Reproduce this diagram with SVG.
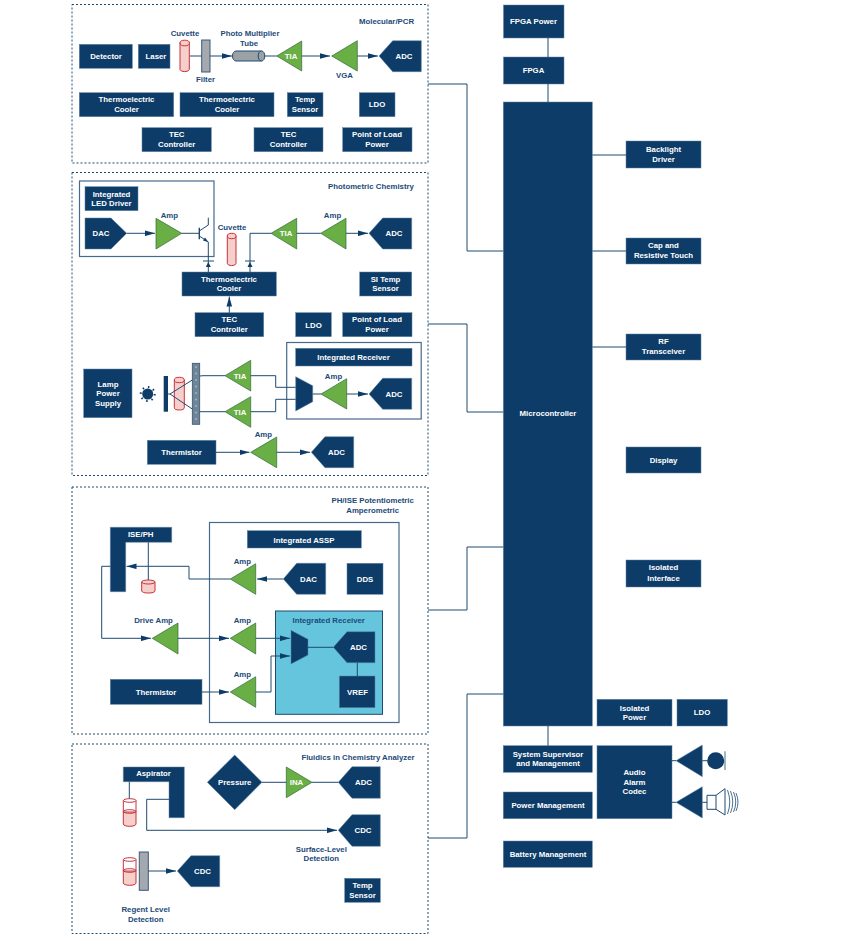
<svg xmlns="http://www.w3.org/2000/svg" width="848" height="938" viewBox="0 0 848 938">
<defs>
<marker id="arr" markerUnits="userSpaceOnUse" markerWidth="10" markerHeight="6" refX="10" refY="3" orient="auto"><path d="M0 0.2L10 3L0 5.8z" fill="#0d3c68"/></marker>
</defs>
<style>
text{font-family:"Liberation Sans",Arial,sans-serif;font-size:7.8px;font-weight:700;text-anchor:middle}
.n{fill:#0d3c68;stroke:#5f84a3;stroke-width:.5}
.w{fill:#fff}
.t{fill:#1c4a77}
.g{fill:#6aae46;stroke:#2f6b36;stroke-width:.7}
.panel{fill:#fff;stroke:#1f4a70;stroke-width:1;stroke-dasharray:2 2}
.box{fill:#fff;stroke:#47698a;stroke-width:1.2}
.c{fill:none;stroke:#1f4a70;stroke-width:1}
.a{marker-end:url(#arr)}
.cy{fill:#f7cfca;stroke:#c5323c;stroke-width:1}
.ct{fill:#fff;stroke:#c5323c;stroke-width:1}
.o{fill:none;stroke:#c5323c;stroke-width:1}
.gy{fill:#a3a9ae;stroke:#3b5b77;stroke-width:1}
</style>
<rect width="848" height="938" fill="#fff"/>
<g id="panels">
<rect class="panel" x="72" y="4.500" width="356" height="158.500"/>
<rect class="panel" x="72" y="172.500" width="356" height="303"/>
<rect class="panel" x="72" y="487" width="356" height="247"/>
<rect class="panel" x="72" y="744" width="356" height="189.500"/>
<rect class="box" x="79.500" y="181" width="134.500" height="75.500"/>
<rect class="box" x="286.700" y="342.500" width="134.500" height="76.500"/>
<rect class="box" x="209.500" y="522.500" width="189.500" height="200"/>
<rect x="275.500" y="611" width="107" height="103.300" fill="#64c5dd" stroke="#1f4a70" stroke-width="1"/>
</g>
<g id="panel-titles">
<text class="t" x="386.500" y="24">Molecular/PCR</text>
<text class="t" x="371" y="189">Photometric Chemistry</text>
<text class="t" x="372.700" y="503">PH/ISE Potentiometric</text>
<text class="t" x="372.700" y="513">Amperometric</text>
<text class="t" x="358" y="760">Fluidics in Chemistry Analyzer</text>
</g>
<g id="molecular">
<g id="m-detector"><rect class="n" x="79.300" y="44.300" width="53" height="24"/><text class="w" x="106" y="59">Detector</text></g>
<g id="m-laser"><rect class="n" x="138.300" y="44.300" width="31.700" height="24"/><text class="w" x="156" y="59">Laser</text></g>
<g id="m-cuvette"><path class="cy" d="M180 42.500V69.500A4.700 2.500 0 0 0 189.300 69.500V42.500z"/><ellipse class="cy" cx="184.700" cy="43" rx="4.700" ry="2.800"/><text class="t" x="185" y="36">Cuvette</text></g>
<g id="m-filter"><rect class="gy" x="201.700" y="40" width="8.300" height="32"/><text class="t" x="205.500" y="82">Filter</text></g>
<g id="m-pmt"><path d="M236 51H261.500V61H236A3.500 5 0 0 1 236 51z" fill="#9aa1a7" stroke="#1f4a70"/><ellipse cx="261.500" cy="56" rx="3.300" ry="5" fill="#9aa1a7" stroke="#1f4a70"/><text class="t" x="250" y="36">Photo Multiplier</text><text class="t" x="249" y="46">Tube</text></g>
<g id="m-tia"><path class="g" d="M276.700 56L301.700 41V71z"/><text class="w" x="291" y="59">TIA</text></g>
<g id="m-vga"><path class="g" d="M331.700 56L357.300 40.700V71z"/><text class="t" x="344.500" y="77.500">VGA</text></g>
<g id="m-adc"><path class="n" d="M379 56L392.700 40.700H421.300V71.700H392.700z"/><text class="w" x="404" y="59">ADC</text></g>
<g id="m-tec1"><rect class="n" x="79.300" y="92.700" width="94.400" height="24"/><text class="w" x="126.500" y="102">Thermoelectric</text><text class="w" x="126.500" y="112">Cooler</text></g>
<g id="m-tec2"><rect class="n" x="180" y="92.700" width="94" height="24"/><text class="w" x="227" y="102">Thermoelectric</text><text class="w" x="227" y="112">Cooler</text></g>
<g id="m-temp"><rect class="n" x="287.300" y="92.700" width="35.700" height="24"/><text class="w" x="305" y="102">Temp</text><text class="w" x="305" y="112">Sensor</text></g>
<g id="m-ldo"><rect class="n" x="359.300" y="92.700" width="35.700" height="24"/><text class="w" x="377" y="107">LDO</text></g>
<g id="m-teccon1"><rect class="n" x="142" y="127.700" width="69.300" height="24"/><text class="w" x="176.700" y="137">TEC</text><text class="w" x="176.700" y="147">Controller</text></g>
<g id="m-teccon2"><rect class="n" x="254" y="127.700" width="69" height="24"/><text class="w" x="288.500" y="137">TEC</text><text class="w" x="288.500" y="147">Controller</text></g>
<g id="m-pol"><rect class="n" x="342.700" y="127.700" width="69.300" height="24"/><text class="w" x="377" y="137">Point of Load</text><text class="w" x="377" y="147">Power</text></g>
</g>
<g id="photometric">
<g id="p-led"><rect class="n" x="85" y="186.700" width="53" height="24"/><text class="w" x="111.500" y="197">Integrated</text><text class="w" x="111.500" y="206">LED Driver</text></g>
<g id="p-dac"><path class="n" d="M85 218H111L126.700 233.300L111 249H85z"/><text class="w" x="101" y="236">DAC</text></g>
<g id="p-amp1"><path class="g" d="M156 218.300L181.700 233.300L156 249z"/><text class="t" x="169.300" y="218">Amp</text></g>
<g id="p-transistor"><path d="M199.300 227.700V239.300" fill="none" stroke="#1f4a70" stroke-width="1.400"/><path class="c" d="M199.300 231L208.300 225V217.700M199.300 236L208.300 242"/><path d="M208.300 242L203 240.500L205 237.500z" fill="#0d3c68"/></g>
<g id="p-cuvette"><path class="cy" d="M227.300 236V263.500A4.400 2.500 0 0 0 236 263.500V236z"/><ellipse class="cy" cx="231.700" cy="236" rx="4.400" ry="2.700"/><text class="t" x="232" y="230">Cuvette</text></g>
<g id="p-tec"><rect class="n" x="182" y="272" width="94.300" height="24"/><text class="w" x="229" y="282">Thermoelectric</text><text class="w" x="229" y="291">Cooler</text></g>
<g id="p-teccon"><rect class="n" x="195" y="312.700" width="68.700" height="24"/><text class="w" x="229.300" y="322">TEC</text><text class="w" x="229.300" y="332">Controller</text></g>
<g id="p-ldo"><rect class="n" x="295.700" y="312.700" width="35.600" height="24"/><text class="w" x="313.500" y="327.500">LDO</text></g>
<g id="p-pol"><rect class="n" x="342.700" y="312.700" width="69.300" height="24"/><text class="w" x="377" y="322">Point of Load</text><text class="w" x="377" y="332">Power</text></g>
<g id="p-sitemp"><rect class="n" x="359.700" y="272" width="52" height="24"/><text class="w" x="385.500" y="282">SI Temp</text><text class="w" x="385.500" y="291">Sensor</text></g>
<g id="p-tia"><path class="g" d="M271 233.300L296.700 218.300V249z"/><text class="w" x="286" y="236">TIA</text></g>
<g id="p-amp2"><path class="g" d="M320.700 233.300L346 218.300V249z"/><text class="t" x="332.500" y="218">Amp</text></g>
<g id="p-adc"><path class="n" d="M369 233.300L382.700 218H411.700V249H382.700z"/><text class="w" x="394" y="236">ADC</text></g>
<g id="p-lamp"><rect class="n" x="83.700" y="369" width="48.300" height="48.700"/><text class="w" x="108" y="387">Lamp</text><text class="w" x="108" y="396">Power</text><text class="w" x="108" y="406">Supply</text></g>
<g id="p-sun"><circle cx="147.700" cy="394" r="5.500" fill="#0d3c68"/><circle cx="147.700" cy="394" r="7" fill="none" stroke="#0d3c68" stroke-width="2" stroke-dasharray="1.500 4"/></g>
<g id="p-slit"><rect x="163.700" y="376" width="4.300" height="35.700" fill="#0d3c68"/></g>
<g id="p-lampcuv"><path class="cy" d="M174.300 380V407.500A5 2.500 0 0 0 184.300 407.500V380z"/><ellipse class="cy" cx="179.300" cy="380" rx="5" ry="2.700"/></g>
<g id="p-grating"><rect x="192.300" y="363.300" width="7.400" height="61" fill="#6f8597" stroke="#36566f" stroke-width=".8"/><path d="M196 367V421" stroke="#a9b8c4" stroke-width="1.800" stroke-linecap="round" stroke-dasharray="0 6.500" fill="none"/></g>
<g id="p-tia1"><path class="g" d="M225 375.700L250.700 360.300V391z"/><text class="w" x="240" y="378.500">TIA</text></g>
<g id="p-tia2"><path class="g" d="M225 411.700L250.700 396.700V427.300z"/><text class="w" x="240" y="414.500">TIA</text></g>
<g id="p-intrx"><rect class="n" x="295.700" y="348.300" width="116.300" height="17.700"/><text class="w" x="353.500" y="360">Integrated Receiver</text></g>
<g id="p-mux"><path class="n" d="M295.700 376.700L312.700 385.700V401.700L295.700 411z"/></g>
<g id="p-amp3"><path class="g" d="M321 394L346.700 378.700V409z"/><text class="t" x="333.500" y="379">Amp</text></g>
<g id="p-adc2"><path class="n" d="M369 394L382.700 378.300H411.700V409.300H382.700z"/><text class="w" x="394" y="396.500">ADC</text></g>
<g id="p-therm"><rect class="n" x="147.300" y="440.300" width="68.700" height="24"/><text class="w" x="181.500" y="455">Thermistor</text></g>
<g id="p-amp4"><path class="g" d="M250.700 452.300L276.700 437V467.700z"/><text class="t" x="263.300" y="437">Amp</text></g>
<g id="p-adc3"><path class="n" d="M311.300 452.300L325 436.700H353.700V467.700H325z"/><text class="w" x="336.500" y="455">ADC</text></g>
</g>
<g id="potentiometric">
<g id="e-ise"><path class="n" d="M110.300 527.300H171.700V542.300H125.700V591.700H110.300z"/><text class="w" x="140.700" y="537">ISE/PH</text></g>
<g id="e-beaker"><path class="cy" d="M141.700 582V591A6.700 2.300 0 0 0 155 591V582z"/><ellipse class="cy" cx="148.300" cy="582" rx="6.700" ry="2"/></g>
<g id="e-assp"><rect class="n" x="247.300" y="530.700" width="114" height="17.300"/><text class="w" x="304" y="542.500">Integrated ASSP</text></g>
<g id="e-amp1"><path class="g" d="M230.300 579L255.700 563.700V594.300z"/><text class="t" x="242.300" y="564">Amp</text></g>
<g id="e-dac"><path class="n" d="M283.300 579L296.700 563.300H325.700V594.300H296.700z"/><text class="w" x="308.500" y="581.500">DAC</text></g>
<g id="e-dds"><rect class="n" x="347" y="563.300" width="36" height="31"/><text class="w" x="365" y="581.500">DDS</text></g>
<g id="e-drive"><path class="g" d="M152.300 638.300L178 623V654z"/><text class="t" x="153.500" y="623">Drive Amp</text></g>
<g id="e-amp2"><path class="g" d="M230.300 638.300L255.700 623V654z"/><text class="t" x="242.300" y="623">Amp</text></g>
<g id="e-intrx"><text class="t" x="328.700" y="623">Integrated Receiver</text></g>
<g id="e-mux"><path class="n" d="M291 630.300L308 639.300V655L291 664z"/></g>
<g id="e-adc"><path class="n" d="M333.300 647.300L347 631.700H375V662.700H347z"/><text class="w" x="358.500" y="650">ADC</text></g>
<g id="e-vref"><rect class="n" x="339.300" y="676" width="35.700" height="31.700"/><text class="w" x="357.500" y="694.500">VREF</text></g>
<g id="e-amp3"><path class="g" d="M230.300 692L255.700 676.700V707.300z"/><text class="t" x="242.300" y="677">Amp</text></g>
<g id="e-therm"><rect class="n" x="110.300" y="679.300" width="91.700" height="25"/><text class="w" x="156" y="694.500">Thermistor</text></g>
</g>
<g id="fluidics">
<g id="f-asp"><path class="n" d="M123.300 767H184.300V817.700H169V781.700H123.300z"/><text class="w" x="153.500" y="776.300">Aspirator</text></g>
<g id="f-beaker1"><path class="cy" d="M123.300 812V824A6.300 2.300 0 0 0 136 824V812z"/><path class="o" d="M123.300 800.500V812M136 800.500V812"/><ellipse class="o" cx="129.700" cy="811.500" rx="6.300" ry="1.800"/><ellipse class="ct" cx="129.700" cy="800.500" rx="6.300" ry="1.800"/></g>
<g id="f-pressure"><path class="n" d="M207.300 782.300L234.700 755L262 782.300L234.700 809.700z"/><text class="w" x="234.700" y="785">Pressure</text></g>
<g id="f-ina"><path class="g" d="M286.300 767L312 782.300L286.300 797.700z"/><text class="w" x="296.500" y="785">INA</text></g>
<g id="f-adc"><path class="n" d="M338.300 782.300L352 766.700H380.300V798.300H352z"/><text class="w" x="363.500" y="785">ADC</text></g>
<g id="f-cdc1"><path class="n" d="M338.300 830.300L352 814.700H380.300V846.300H352z"/><text class="w" x="363" y="833">CDC</text></g>
<g id="f-surface"><text class="t" x="321.300" y="852">Surface-Level</text><text class="t" x="321.300" y="861">Detection</text></g>
<g id="f-beaker2"><path class="cy" d="M123.300 871V883A6.300 2.300 0 0 0 136 883V871z"/><path class="o" d="M123.300 859.500V871M136 859.500V871"/><ellipse class="o" cx="129.700" cy="870.500" rx="6.300" ry="1.800"/><ellipse class="ct" cx="129.700" cy="859.500" rx="6.300" ry="1.800"/></g>
<g id="f-bar"><rect class="gy" x="139.300" y="852" width="9" height="38.300"/></g>
<g id="f-cdc2"><path class="n" d="M177.300 871L191 855.700H219.700V886.700H191z"/><text class="w" x="202.500" y="874">CDC</text></g>
<g id="f-regent"><text class="t" x="145.700" y="911.500">Regent Level</text><text class="t" x="145.700" y="922">Detection</text></g>
<g id="f-temp"><rect class="n" x="344.700" y="878.300" width="35.600" height="24"/><text class="w" x="362.500" y="888">Temp</text><text class="w" x="362.500" y="898">Sensor</text></g>
</g>
<g id="system">
<g id="s-fpgap"><rect class="n" x="503.500" y="5" width="60.500" height="33"/><text class="w" x="533.500" y="24">FPGA Power</text></g>
<g id="s-fpga"><rect class="n" x="503.500" y="57" width="60.500" height="27"/><text class="w" x="533.500" y="73">FPGA</text></g>
<g id="s-mcu"><rect class="n" x="503.300" y="102" width="89" height="624"/><text class="w" x="548" y="416">Microcontroller</text></g>
<g id="s-back"><rect class="n" x="626" y="141" width="75" height="27"/><text class="w" x="663.500" y="152">Backlight</text><text class="w" x="663.500" y="162">Driver</text></g>
<g id="s-touch"><rect class="n" x="626" y="238" width="75" height="26"/><text class="w" x="663.500" y="248">Cap and</text><text class="w" x="663.500" y="258">Resistive Touch</text></g>
<g id="s-rf"><rect class="n" x="626" y="334" width="75" height="26"/><text class="w" x="663.500" y="344">RF</text><text class="w" x="663.500" y="354">Transceiver</text></g>
<g id="s-display"><rect class="n" x="626" y="447" width="75" height="26"/><text class="w" x="663.500" y="463">Display</text></g>
<g id="s-iso"><rect class="n" x="626" y="560" width="75" height="27"/><text class="w" x="663.500" y="570">Isolated</text><text class="w" x="663.500" y="581">Interface</text></g>
<g id="s-isop"><rect class="n" x="597" y="699.300" width="75" height="26.700"/><text class="w" x="634.500" y="711">Isolated</text><text class="w" x="634.500" y="720">Power</text></g>
<g id="s-ldo"><rect class="n" x="677" y="699.300" width="50.300" height="26.700"/><text class="w" x="702" y="715">LDO</text></g>
<g id="s-sup"><rect class="n" x="503.300" y="745.700" width="89" height="26.600"/><text class="w" x="548" y="757">System Supervisor</text><text class="w" x="548" y="766">and Management</text></g>
<g id="s-pm"><rect class="n" x="503.300" y="792" width="89" height="26.700"/><text class="w" x="548" y="808">Power Management</text></g>
<g id="s-bm"><rect class="n" x="503.300" y="841" width="89" height="26.300"/><text class="w" x="548" y="857">Battery Management</text></g>
<g id="s-audio"><rect class="n" x="597" y="745.700" width="75" height="73"/><text class="w" x="634.500" y="775">Audio</text><text class="w" x="634.500" y="785">Alarm</text><text class="w" x="634.500" y="794">Codec</text></g>
<g id="s-mic"><path class="n" d="M676 760.700L702.300 745V776.700z"/><circle cx="715.700" cy="760.700" r="8.500" fill="#0d3c68"/><path d="M725 751.300V770" stroke="#47698a" stroke-width="1"/></g>
<g id="s-speaker"><path class="n" d="M676 802.300L702.300 786.700V818z"/><path d="M707 795.300H716V809.300H707zM716 795.300L725 788.700V815L716 809.300" fill="#fff" stroke="#1f4a70"/><path d="M727.500 790Q732 802 727.500 814M730.500 791Q735 802 730.500 813M733.500 792Q738 802 733.500 812M736 793Q740 802 736 811" fill="none" stroke="#1f4a70" stroke-width=".8"/></g>
</g>
<g id="connectors">
<path class="c" d="M190 56H201.700"/>
<path class="c a" d="M210 56H232"/>
<path class="c" d="M265 56H276.700"/>
<path class="c a" d="M301.700 56H330"/>
<path class="c a" d="M357.300 56H378"/>
<path class="c a" d="M126.700 233.300H155"/>
<path class="c" d="M181.700 233.300H199.300"/>
<path class="c" d="M208.300 242V272M203 261H214"/>
<path d="M208.300 262L205.800 267H210.800z" fill="#0d3c68"/>
<path class="c" d="M271 233.300H250V272M245 261H255"/>
<path d="M250 262L247.500 267H252.500z" fill="#0d3c68"/>
<path class="c a" d="M229.300 312.700V296.500"/>
<path class="c" d="M296.700 233.300H320.700"/>
<path class="c a" d="M346 233.300H368"/>
<path class="c" d="M168 394H170L192.300 380M170 394L192.300 409"/>
<path class="c" d="M199.700 376L203 375.700H225M199.700 411.700H225"/>
<path class="c" d="M250.700 375.700H275.700V387.300H295.700M250.700 411.700H275.700V399.300H295.700"/>
<path class="c" d="M312.700 394H321"/>
<path class="c a" d="M346.700 394H368"/>
<path class="c a" d="M216 452.300H249.500"/>
<path class="c a" d="M276.700 452.300H310"/>
<path class="c" d="M148.300 542.300V580"/>
<path class="c a" d="M283.300 579H257"/>
<path class="c a" d="M230.300 579H189V566.300H126.500"/>
<path class="c a" d="M110.300 566.300H101.700V638.300H151"/>
<path class="c a" d="M178 638.300H229"/>
<path class="c a" d="M255.700 638.300H290"/>
<path class="c" d="M308 647.300H333.300"/>
<path class="c" d="M357.300 662.700V676"/>
<path class="c a" d="M255.700 692H271V656H290"/>
<path class="c a" d="M202 692H229"/>
<path class="c" d="M129.300 781.700V798.500"/>
<path class="c a" d="M169 799.300H146.700V830.300H337"/>
<path class="c" d="M262 782.300H286.300M312 782.300H338.300"/>
<path class="c a" d="M148.300 871H176"/>
<path class="c" d="M548 38V57M548 84V102M548 726V745.700"/>
<path class="c" d="M592.300 155H626M592.300 251H626M592.300 347H626"/>
<path class="c" d="M672 760.700H676M672 802.300H676M702.300 760.700H707.500M702.300 802.300H707"/>
<path class="c" d="M428 84H467V251H503.300"/>
<path class="c" d="M428 324H467V412H503.300"/>
<path class="c" d="M428 610H467V547H503.300"/>
<path class="c" d="M428 838H467V694H503.300"/>
</g>
</svg>
